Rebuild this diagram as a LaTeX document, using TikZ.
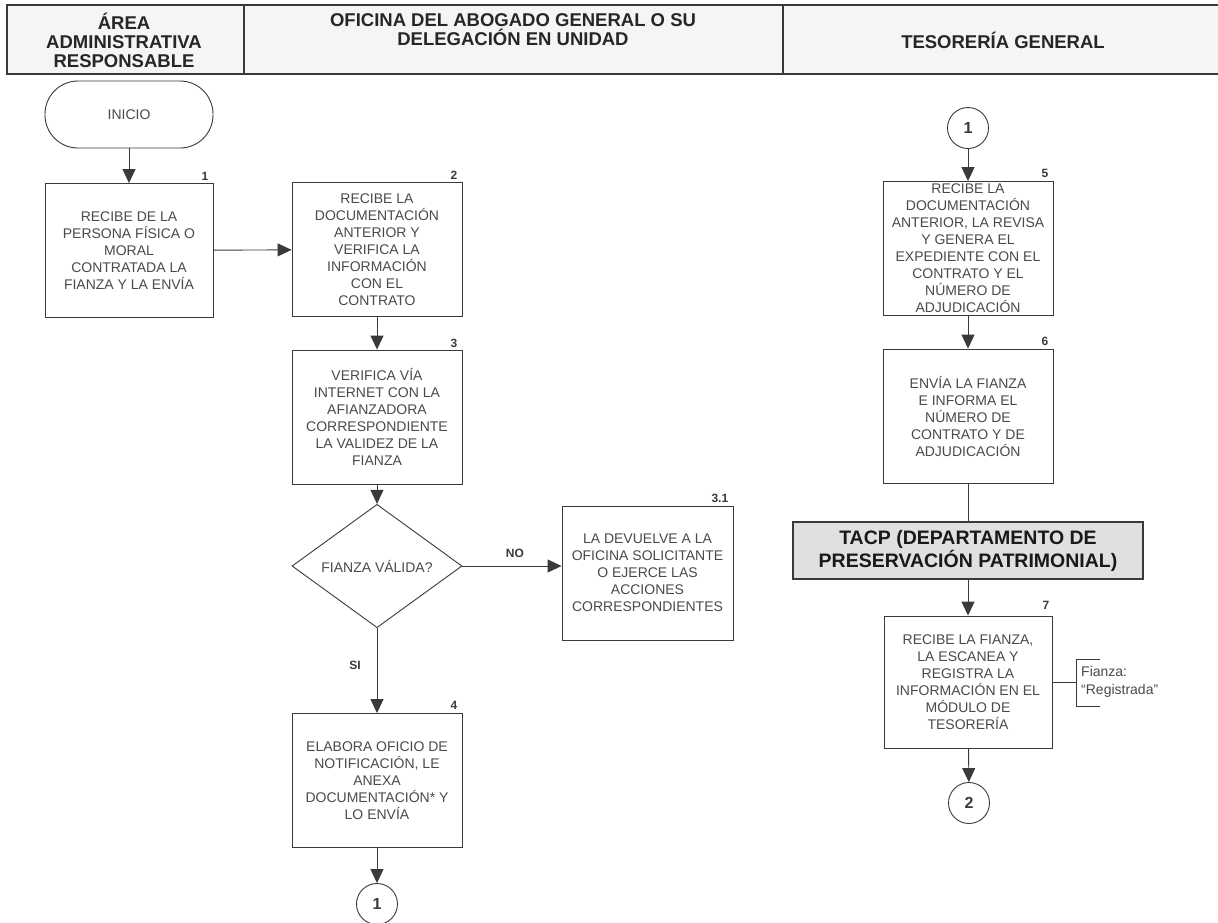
\documentclass[tikz,border=0pt]{standalone}
\usepackage{fontspec}
\setmainfont{Liberation Sans}
\usetikzlibrary{shapes.geometric,arrows.meta}
\definecolor{ink}{HTML}{3A3A3A}
\definecolor{txt}{HTML}{4A4A4A}
\tikzset{
  box/.style={draw=ink, line width=0.9pt, minimum width=170pt, minimum height=134pt,
    inner sep=0pt, align=center, text=txt, font=\fontsize{14}{17}\selectfont},
  term/.style={draw=ink, line width=0.9pt, minimum width=168pt, minimum height=67pt,
    rounded corners=33pt, inner sep=0pt, align=center, text=txt, font=\fontsize{14}{17}\selectfont},
  decision/.style={draw=ink, line width=0.9pt, diamond, minimum width=170pt, minimum height=93pt,
    inner sep=0pt, text=txt, font=\fontsize{14}{17}\selectfont},
  conn/.style={draw=ink, line width=0.9pt, circle, minimum size=41pt, inner sep=0pt,
    font=\fontsize{16}{18}\selectfont\bfseries, text=ink},
  num/.style={inner sep=0pt, font=\fontsize{12}{13}\selectfont\bfseries, text=ink, anchor=south east},
  flow/.style={draw=ink, line width=0.9pt, -{Triangle[width=13pt,length=14pt]}},
  plain/.style={draw=ink, line width=0.9pt},
  cell/.style={draw=ink, line width=1.6pt, fill=black!4, minimum height=69pt, inner sep=0pt},
  head/.style={align=center, inner sep=0pt, font=\fontsize{18.5}{19}\selectfont\bfseries, text=black!85},
  lbl/.style={inner sep=0pt, font=\fontsize{12}{13}\selectfont\bfseries, text=ink},
  tacpbox/.style={draw=ink, line width=2pt, fill=black!12, minimum width=350pt, minimum height=57pt,
    inner sep=0pt, align=center, font=\fontsize{19.5}{23}\selectfont\bfseries, text=black!90},
  note/.style={inner sep=0pt, align=left, anchor=west, font=\fontsize{14}{17.5}\selectfont, text=txt}
}
\begin{document}
\begin{tikzpicture}[x=1pt,y=-1pt]
\useasboundingbox (0,0) rectangle (1218,922);
\fill[white] (0,0) rectangle (1218,922);
% header
\node[cell, minimum width=237pt] (H1) at (125.5,39.5) {};
\node[cell, minimum width=539pt] (H2) at (513.5,39.5) {};
\node[cell, minimum width=437pt] (H3) at (1001.5,39.5) {};
\node[head] (T1) at (124,40) {ÁREA\\ADMINISTRATIVA\\RESPONSABLE};
\node[head] (T2) at (513,30) {OFICINA DEL ABOGADO GENERAL O SU\\DELEGACIÓN EN UNIDAD};
\node[head] (T3) at (1003,40) {TESORERÍA GENERAL};
% nodes
\node[term] (ini) at (129,114.5) {INICIO};
\node[box, minimum width=168pt] (b1) at (129,250.5) {RECIBE DE LA\\PERSONA FÍSICA O\\MORAL\\CONTRATADA LA\\FIANZA Y LA ENVÍA};
\node[box] (b2) at (377,249.5) {RECIBE LA\\DOCUMENTACIÓN\\ANTERIOR Y\\VERIFICA LA\\INFORMACIÓN\\CON EL\\CONTRATO};
\node[box] (b3) at (377,417) {VERIFICA VÍA\\INTERNET CON LA\\AFIANZADORA\\CORRESPONDIENTE\\LA VALIDEZ DE LA\\FIANZA};
\node[decision] (dec) at (377,566) {FIANZA VÁLIDA?};
\node[box, minimum width=171pt] (b31) at (647.5,573) {LA DEVUELVE A LA\\OFICINA SOLICITANTE\\O EJERCE LAS\\ACCIONES\\CORRESPONDIENTES};
\node[box] (b4) at (377,780.5) {ELABORA OFICIO DE\\NOTIFICACIÓN, LE\\ANEXA\\DOCUMENTACIÓN* Y\\LO ENVÍA};
\node[conn] (c1a) at (377,904) {1};
\node[conn] (c1b) at (968,128) {1};
\node[box] (b5) at (968,248.5) {RECIBE LA\\DOCUMENTACIÓN\\ANTERIOR, LA REVISA\\Y GENERA EL\\EXPEDIENTE CON EL\\CONTRATO Y EL\\NÚMERO DE\\ADJUDICACIÓN};
\node[box] (b6) at (968,416) {ENVÍA LA FIANZA\\E INFORMA EL\\NÚMERO DE\\CONTRATO Y DE\\ADJUDICACIÓN};
\node[tacpbox] (tacp) at (968,550.5) {TACP (DEPARTAMENTO DE\\PRESERVACIÓN PATRIMONIAL)};
\node[box, minimum width=168pt, minimum height=132pt] (b7) at (968,682) {RECIBE LA FIANZA,\\LA ESCANEA Y\\REGISTRA LA\\INFORMACIÓN EN EL\\MÓDULO DE\\TESORERÍA};
\node[conn] (c2) at (969,803) {2};
% step numbers
\node[num] (n1) at ([xshift=-5pt,yshift=2pt]b1.north east) {1};
\node[num] (n2) at ([xshift=-5pt,yshift=2pt]b2.north east) {2};
\node[num] (n3) at ([xshift=-5pt,yshift=2pt]b3.north east) {3};
\node[num] (n31) at ([xshift=-5pt,yshift=3pt]b31.north east) {3.1};
\node[num] (n4) at ([xshift=-5pt,yshift=3pt]b4.north east) {4};
\node[num] (n5) at ([xshift=-5pt,yshift=3pt]b5.north east) {5};
\node[num] (n6) at ([xshift=-5pt,yshift=3pt]b6.north east) {6};
\node[num] (n7) at ([xshift=-3pt,yshift=6pt]b7.north east) {7};
% connectors
\draw[flow] (ini) -- (b1);
\draw[flow] (b1) -- (b2);
\draw[flow] (b2) -- (b3);
\draw[flow] (b3) -- (dec);
\draw[flow] (dec.east) -- node[lbl, pos=0.53, yshift=13pt] (no) {NO} (b31.west |- dec.east);
\draw[flow] (dec) -- node[lbl, pos=0.44, xshift=-22pt] (si) {SI} (b4);
\draw[flow] (b4) -- (c1a);
\draw[flow] (c1b) -- (b5);
\draw[flow] (b5) -- (b6);
\draw[plain] (b6) -- (tacp);
\draw[flow] (tacp) -- (b7);
\draw[flow] (b7) -- (c2);
% annotation
\coordinate (brk) at (1076,682);
\coordinate (brkT) at (1076,659);
\coordinate (brkB) at (1076,706);
\draw[plain, line width=0.7pt] (b7.east |- brk) -- (brk);
\draw[plain, line width=0.7pt] ([xshift=24pt]brkT) -- (brkT) -- (brkB) -- ([xshift=24pt]brkB);
\node[note] (ann) at (1081,682) {Fianza:\\“Registrada”};
\end{tikzpicture}
\end{document}
